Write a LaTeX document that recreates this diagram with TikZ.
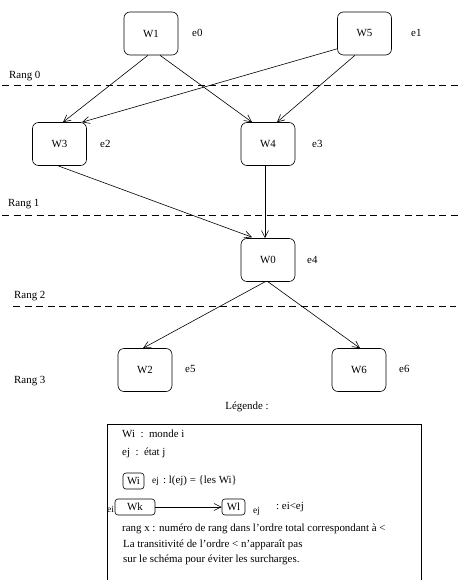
\documentclass[tikz,border=0pt]{standalone}
\usepackage{fontspec}
\setmainfont{Liberation Serif}
\usetikzlibrary{arrows.meta}
\begin{document}
\begin{tikzpicture}[x=1pt,y=-1pt,
  txt/.style={font=\fontsize{10.9}{13}\selectfont},
  world/.style={draw, line width=0.6pt, rounded corners=6pt, minimum width=54pt, minimum height=43pt, inner sep=0pt, txt},
  small/.style={draw, line width=0.6pt, rounded corners=3pt, minimum height=16pt, inner sep=0pt, txt},
  lbl/.style={anchor=west, inner sep=0pt, txt},
  tiny/.style={inner sep=0pt, font=\fontsize{9.5}{11}\selectfont},
  conn/.style={line width=0.6pt, -{Straight Barb[length=7pt,width=7pt,line width=0.6pt]}},
  rangline/.style={line width=0.6pt, dash pattern=on 7pt off 4.5pt}]
\useasboundingbox (0,0) rectangle (463,580);
% worlds
\node[world] (W1) at (151,33.5) {W1};
\node[world] (W5) at (364.5,33.5) {W5};
\node[world] (W3) at (59.5,144) {W3};
\node[world] (W4) at (268,144) {W4};
\node[world] (W0) at (268,260) {W0};
\node[world] (W2) at (145,370) {W2};
\node[world] (W6) at (359,370) {W6};
% states
\node[lbl] (e0) at (192,33) {e0};
\node[lbl] (e1) at (411,33) {e1};
\node[lbl] (e2) at (100,144) {e2};
\node[lbl] (e3) at (312,144) {e3};
\node[lbl] (e4) at (307,260) {e4};
\node[lbl] (e5) at (185,369) {e5};
\node[lbl] (e6) at (399,369) {e6};
% rang lines
\coordinate (r0a) at (2,85); \coordinate (r0b) at (460,85);
\coordinate (r1a) at (2,215); \coordinate (r1b) at (460,215);
\coordinate (r2a) at (13,306); \coordinate (r2b) at (456,306);
\draw[rangline] (r0a) -- (r0b);
\draw[rangline] (r1a) -- (r1b);
\draw[rangline] (r2a) -- (r2b);
\node[lbl] (R0) at (9,76) {Rang 0};
\node[lbl] (R1) at (8,204) {Rang 1};
\node[lbl] (R2) at (14,296) {Rang 2};
\node[lbl] (R3) at (14,381) {Rang 3};
% connectors
\draw[conn] ([xshift=-3pt]W1.south) -- ([xshift=3.5pt]W3.north);
\draw[conn] ([xshift=9pt]W1.south) -- ([xshift=-16pt]W4.north);
\draw[conn] ([yshift=6.5pt]W5.south west) -- ([xshift=22.5pt]W3.north);
\draw[conn] ([xshift=-9.5pt]W5.south) -- ([xshift=9pt]W4.north);
\draw[conn] ([xshift=-1.5pt]W3.south) -- ([xshift=-16pt,yshift=1pt]W0.north);
\draw[conn] ([xshift=-3pt]W4.south) -- ([xshift=-3pt]W0.north);
\draw[conn] ([xshift=-3pt]W0.south) -- ([xshift=-2pt]W2.north);
\draw[conn] ([xshift=0pt]W0.south) -- ([xshift=1pt]W6.north);
% legend
\node[inner sep=0pt, txt] (leg) at (247,407) {Légende :};
\coordinate (b1) at (107,582); \coordinate (b2) at (107,424);
\coordinate (b3) at (421,424); \coordinate (b4) at (421,582);
\draw[line width=0.6pt] (b1) -- (b2) -- (b3) -- (b4);
\node[lbl] (l1) at (122,434) {Wi~~:~~monde i};
\node[lbl] (l2) at (122,453) {ej~~:~~état j};
\node[small, minimum width=21pt] (Wi) at (133.5,481) {Wi};
\node[tiny, anchor=west] (ejA) at (152,481) {ej};
\node[lbl] (l3) at (163,481) {:~l(ej) = \{les Wi\}};
\node[small, minimum width=40pt] (Wk) at (135,507) {Wk};
\node[tiny, anchor=east] (ei) at ([xshift=-0.5pt,yshift=-2pt]Wk.west) {ei};
\node[small, minimum width=23pt] (Wl) at (233.5,507) {Wl};
\draw[conn] (Wk.east) -- (Wl.west);
\node[tiny, anchor=west] (ejB) at (253,511) {ej};
\node[lbl] (l4) at (276,507) {:~ei<ej};
\node[lbl] (l5) at (122,529) {rang x : numéro de rang dans l’ordre total correspondant à <};
\node[lbl] (l6) at (123,545) {La transitivité de l’ordre < n’apparaît pas};
\node[lbl] (l7) at (123,560) {sur le schéma pour éviter les surcharges.};
\end{tikzpicture}
\end{document}
